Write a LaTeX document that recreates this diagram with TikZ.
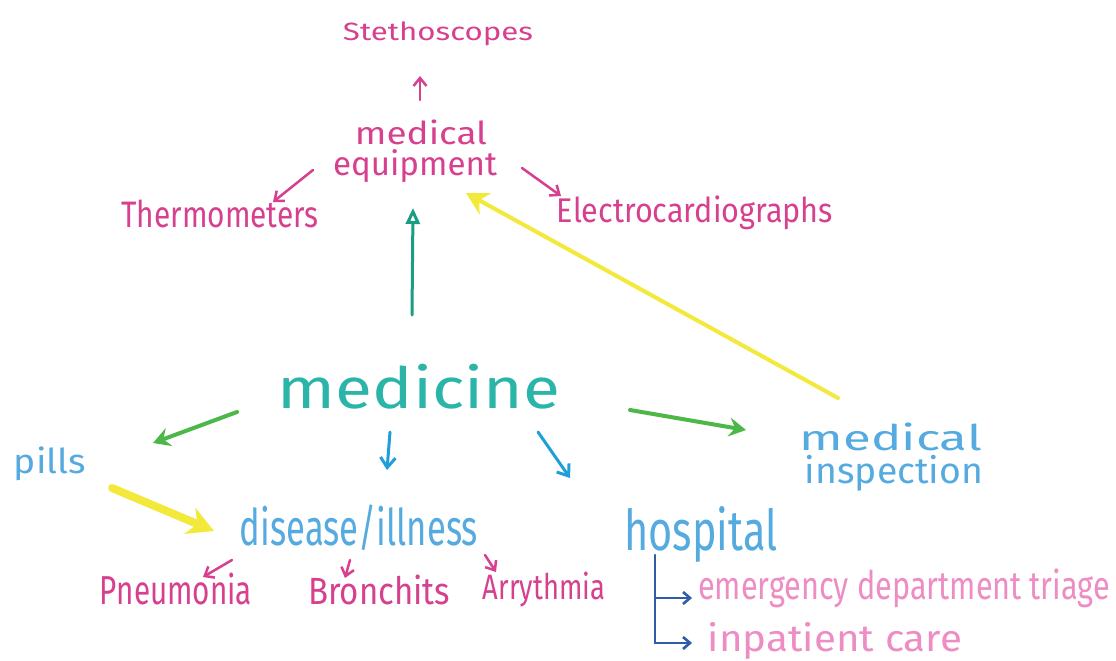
\documentclass[tikz,border=0pt]{standalone}
\usepackage{fontspec}
\setmainfont{Fira Sans}
\usepackage{graphicx}
\usetikzlibrary{arrows.meta}
\definecolor{pinkT}{HTML}{D6408E}
\definecolor{pinkL}{HTML}{EE8CC4}
\definecolor{tealT}{HTML}{2BB5A8}
\definecolor{tealA}{HTML}{1B9C85}
\definecolor{greenA}{HTML}{4DB848}
\definecolor{blueT}{HTML}{55AADF}
\definecolor{blueA}{HTML}{1E9FD9}
\definecolor{blueD}{HTML}{2F5DAA}
\definecolor{yellowA}{HTML}{F2E93A}
\newcommand\fitbox[3]{\resizebox*{#1pt}{#2pt}{#3}}
\begin{document}
\begin{tikzpicture}[x=1pt,y=-1pt,
  txt/.style={inner sep=0pt, outer sep=0pt, anchor=center},
  pinkarrow/.style={draw=pinkT, line width=2.5pt, line cap=round, -{Straight Barb[length=8pt,width=13pt,line width=2.5pt]}},
  bluearrow/.style={draw=blueA, line width=3pt, line cap=round, -{Straight Barb[length=10pt,width=15pt,line width=3pt]}},
  greenarrow/.style={draw=greenA, line width=4pt, line cap=round, -{Stealth[length=17pt,width=19pt,inset=6pt]}},
  treeline/.style={draw=blueD, line width=2.6pt, line cap=round},
  treearrow/.style={treeline, -{Straight Barb[length=7pt,width=12pt,line width=2.6pt]}}]
\useasboundingbox (0,0) rectangle (1116,661);
\fill[white] (0,0) rectangle (1116,661);

% nodes
\node[txt, text=pinkT] (steth) at (438,34) {\fitbox{190}{24}{Stethoscopes}};
\node[txt, text=pinkT] (equipA) at (421,132) {\fitbox{132}{25}{medical}};
\node[txt, text=pinkT] (equipB) at (415,166) {\fitbox{164}{33}{equipment}};
\node[txt, text=pinkT] (thermo) at (220,214) {\fitbox{197}{28}{Thermometers}};
\node[txt, text=pinkT] (ecg) at (695,213) {\fitbox{276}{34}{Electrocardiographs}};
\node[txt, text=tealT] (medicine) at (419,387) {\fitbox{282}{45}{medicine}};
\node[txt, text=blueT] (pills) at (50,464) {\fitbox{72}{34}{pills}};
\node[txt, text=blueT] (inspA) at (891,437) {\fitbox{182}{28}{medical}};
\node[txt, text=blueT] (inspB) at (894,473) {\fitbox{178}{36}{inspection}};
\node[txt, text=blueT] (disease) at (359,528) {\fitbox{238}{46}{disease/illness}};
\node[txt, text=pinkT] (pneu) at (176,589) {\fitbox{152}{32}{Pneumonia}};
\node[txt, text=pinkT] (bron) at (379,590) {\fitbox{142}{30}{Bronchits}};
\node[txt, text=pinkT] (arry) at (544,590) {\fitbox{122}{35}{Arrythmia}};
\node[txt, text=blueT] (hosp) at (701,535) {\fitbox{153}{56}{hospital}};
\node[txt, text=pinkL, anchor=west] (emerg) at (698,588) {\fitbox{412}{39}{emergency department triage}};
\node[txt, text=pinkL] (inpat) at (835,641) {\fitbox{254}{37}{inpatient care}};

% connector end points
\coordinate (eqUpS) at (420,100);
\coordinate (eqUpE) at (420,76);
\coordinate (eqThS) at (313,170);
\coordinate (eqThE) at (273,202);
\coordinate (eqEcS) at (522,168);
\coordinate (eqEcE) at (561,196);
\coordinate (medUpS) at (412,315);
\coordinate (medUpE) at (413,208);
\coordinate (medPiS) at (237,412);
\coordinate (medPiE) at (153,443);
\coordinate (medDiS) at (390,432);
\coordinate (medDiE) at (387,470);
\coordinate (medHoS) at (538,432);
\coordinate (medHoE) at (570,478);
\coordinate (medInS) at (630,410);
\coordinate (medInE) at (746,430);
\coordinate (inEqS) at (838,398);
\coordinate (inEqE) at (466,193);
\coordinate (piDiS) at (112,488);
\coordinate (piDiE) at (214,531);
\coordinate (diPnS) at (232,560);
\coordinate (diPnE) at (203,577);
\coordinate (diBrS) at (350,560);
\coordinate (diBrE) at (345,578);
\coordinate (diArS) at (485,555);
\coordinate (diArE) at (496,572);
\coordinate (hoTop) at (655,555);
\coordinate (hoMid) at (655,598);
\coordinate (hoBot) at (655,643);
\coordinate (hoEmE) at (692,598);
\coordinate (hoInE) at (692,643);

% connectors
\draw[pinkarrow] (eqUpS) -- (eqUpE);
\draw[pinkarrow] (eqThS) -- (eqThE);
\draw[pinkarrow] (eqEcS) -- (eqEcE);
\draw[draw=tealA, line width=3pt, line cap=round, -{Triangle[open,length=16pt,width=14pt,line width=3pt]}] (medUpS) -- (medUpE);
\draw[greenarrow] (medPiS) -- (medPiE);
\draw[bluearrow] (medDiS) -- (medDiE);
\draw[bluearrow] (medHoS) -- (medHoE);
\draw[greenarrow] (medInS) -- (medInE);
\draw[draw=yellowA, line width=4pt, line cap=round, -{Stealth[length=22pt,width=24pt,inset=7pt]}] (inEqS) -- (inEqE);
\draw[draw=yellowA, line width=8pt, line cap=round, -{Stealth[length=26pt,width=28pt,inset=8pt]}] (piDiS) -- (piDiE);
\draw[pinkarrow] (diPnS) -- (diPnE);
\draw[pinkarrow] (diBrS) -- (diBrE);
\draw[pinkarrow] (diArS) -- (diArE);
\draw[treeline] (hoTop) -- (hoBot);
\draw[treearrow] (hoMid) -- (hoEmE);
\draw[treearrow] (hoBot) -- (hoInE);
\end{tikzpicture}
\end{document}
